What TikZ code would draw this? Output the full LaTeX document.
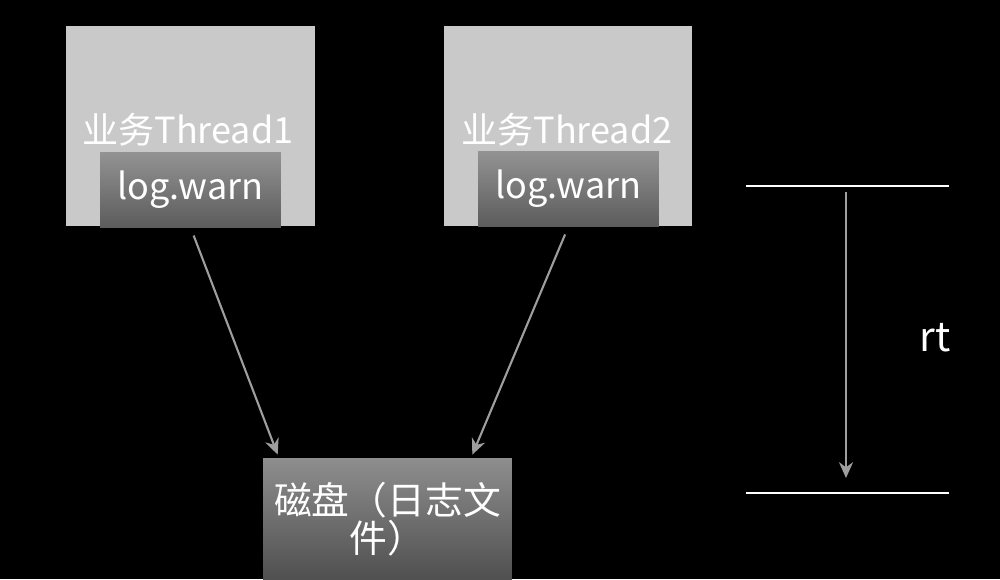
\documentclass[tikz,border=0pt]{standalone}
\usepackage{fontspec}
\setmainfont{Noto Sans CJK SC}
\usetikzlibrary{
    arrows.meta,
    positioning,
    calc
}
\definecolor{boxgray}{HTML}{C9C9C9}
\definecolor{logtop}{HTML}{939393}
\definecolor{logbot}{HTML}{5C5C5C}
\definecolor{disktop}{HTML}{8E8E8E}
\definecolor{diskbot}{HTML}{4F4F4F}
\definecolor{arrowgray}{HTML}{9E9E9E}
\tikzstyle{thread} = [
    rectangle,
    fill=boxgray,
    minimum width=4.98cm,
    minimum height=4.02cm,
    inner sep=0pt
]
\tikzstyle{threadtext} = [
    text=white,
    inner sep=0pt,
    font=\fontsize{20.5}{24}\selectfont
]
\tikzstyle{logcall} = [
    rectangle,
    top color=logtop,
    bottom color=logbot,
    minimum width=3.62cm,
    minimum height=1.5cm,
    inner sep=0pt,
    text=white,
    font=\fontsize{20.5}{24}\selectfont
]
\tikzstyle{disk} = [
    rectangle,
    top color=disktop,
    bottom color=diskbot,
    minimum width=4.98cm,
    minimum height=2.44cm,
    text width=4.7cm,
    align=center,
    inner sep=0pt,
    text=white,
    font=\fontsize{21.5}{22}\selectfont
]
\tikzstyle{arrow} = [
    -{Stealth[length=9pt,width=8pt]},
    line width=1.2pt,
    draw=arrowgray
]
\tikzstyle{mark line} = [
    line width=1.6pt,
    draw=white
]

\begin{document}
\begin{tikzpicture}[x=0.02cm, y=-0.02cm]
        % Background
        \fill[black] (0,0) rectangle (1000,579);
        \useasboundingbox (0,0) rectangle (1000,579);

        % Threads
        \node[thread] (t1) at (190.5,126) {};
        \node[threadtext] (t1text) at (188,129.5) {业务Thread1};
        \node[logcall] (log1) at (190.5,189.5) {log.warn};

        \node[thread] (t2) at (568,126) {};
        \node[threadtext] (t2text) at (567,129.5) {业务Thread2};
        \node[logcall] (log2) at (568.5,188.5) {log.warn};

        % Disk
        \node[disk] (disk) at (387.5,519) {磁盘（日志文\\件）};

        % Arrows
        \draw[arrow, shorten <=5pt] (log1.south) -- ([shift={(15,-3)}]disk.north west);
        \draw[arrow, shorten <=5pt] (log2.south) -- ([shift={(-40,-3)}]disk.north east);

        % rt
        \coordinate (rttop) at (846,186);
        \coordinate (rtbot) at (846,493);
        \draw[mark line] ([shift={(-100,0)}]rttop) -- ([shift={(103,0)}]rttop);
        \draw[mark line] ([shift={(-100,0)}]rtbot) -- ([shift={(103,0)}]rtbot);
        \draw[arrow] ([shift={(0,6)}]rttop) -- ([shift={(0,-15)}]rtbot);
        \node[text=white, inner sep=0pt, font=\fontsize{23}{26}\selectfont] (rt) at (935,338) {rt};
    \end{tikzpicture}
\end{document}
